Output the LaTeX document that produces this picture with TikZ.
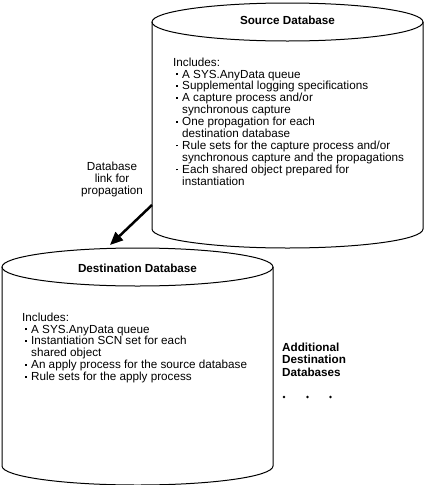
\documentclass[tikz,border=0pt]{standalone}
\usepackage{fontspec}
\setmainfont{Liberation Sans}
\usetikzlibrary{arrows.meta}
\newcommand{\bul}{\hspace*{3pt}\makebox[6pt][l]{\raisebox{3pt}{\rule{1.6pt}{1.6pt}}}}
\newcommand{\ind}{\hspace*{9pt}}
\tikzset{
  dbline/.style={line width=1pt},
  dbtitle/.style={font=\fontsize{11.7}{12}\selectfont\bfseries, anchor=base, inner sep=0pt},
  dblist/.style={align=left, anchor=north west, inner sep=0pt, font=\fontsize{11.7}{11.9}\selectfont},
}
\begin{document}
\begin{tikzpicture}[x=1pt, y=-1pt]
    \useasboundingbox (0,0) rectangle (425,485);
    % source database
    \draw [dbline] (287.5,22) ellipse [x radius=135.5pt, y radius=19pt];
    \draw [dbline] (152,22) -- (152,229) arc [start angle=180, end angle=360, x radius=135.5pt, y radius=19pt] -- (423,22);
    \node [dbtitle] (srctitle) at (287.5,24) {Source Database};
    \node [dblist] (srclist) at (173,57.5) {Includes:\\
      \bul A SYS.AnyData queue\\
      \bul Supplemental logging specifications\\
      \bul A capture process and/or\\
      \ind synchronous capture\\
      \bul One propagation for each\\
      \ind destination database\\
      \bul Rule sets for the capture process and/or\\
      \ind synchronous capture and the propagations\\
      \bul Each shared object prepared for\\
      \ind instantiation};
    % destination database
    \draw [dbline] (137.5,267) ellipse [x radius=135.5pt, y radius=19pt];
    \draw [dbline] (2,267) -- (2,466) arc [start angle=180, end angle=360, x radius=135.5pt, y radius=19pt] -- (273,267);
    \node [dbtitle] (dsttitle) at (137.5,272) {Destination Database};
    \node [dblist] (dstlist) at (22,312.5) {Includes:\\
      \bul A SYS.AnyData queue\\
      \bul Instantiation SCN set for each\\
      \ind shared object\\
      \bul An apply process for the source database\\
      \bul Rule sets for the apply process};
    % link
    \coordinate (srcside) at (152,205);
    \coordinate (dsttop) at (110,245);
    \draw [line width=2.5pt, -{Triangle[length=13pt, width=11pt]}] (srcside) -- (dsttop);
    \node [dblist, align=center, anchor=north, font=\fontsize{11.7}{12}\selectfont] (link) at (112,161.5) {Database\\link for\\propagation};
    % additional destinations
    \node [dblist, font=\fontsize{11.7}{12.5}\selectfont\bfseries] (more) at (282,342.5) {Additional\\Destination\\Databases};
    \foreach \x [count=\i] in {284,307.5,330.5}
      \fill (\x,397) circle [radius=1.4pt] coordinate (dot\i);
\end{tikzpicture}
\end{document}
